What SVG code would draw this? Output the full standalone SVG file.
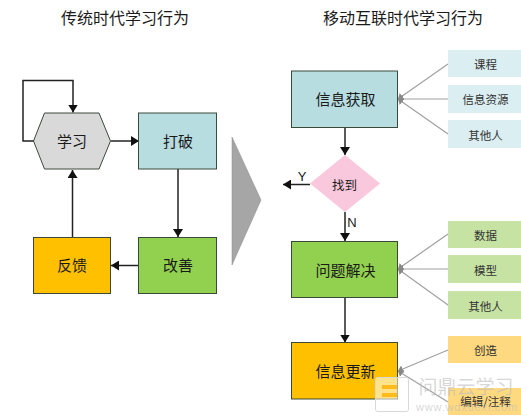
<svg xmlns="http://www.w3.org/2000/svg" width="521" height="417" viewBox="0 0 521 417">
<style>
text{font-family:"Noto Sans CJK SC","Liberation Sans",sans-serif;text-anchor:middle;fill:#1a1a1a}
.t{font-size:16px}.n{font-size:15px}.b{font-size:15px}.s{font-size:11.5px;fill:#333}
.l{font-family:"Liberation Sans",sans-serif;font-size:13px}
.box{stroke:#3a4a3a;stroke-width:1}
.c{fill:none;stroke:#222;stroke-width:1.5}
.g{fill:none;stroke:#a0a0a0;stroke-width:1.2}
</style>
<defs>
<marker id="a" markerUnits="userSpaceOnUse" markerWidth="9" markerHeight="10" refX="8" refY="5" orient="auto"><path d="M0 0L8 5L0 10Z" fill="#111"/></marker>
<marker id="h" markerUnits="userSpaceOnUse" markerWidth="6" markerHeight="8" refX="5" refY="4" orient="auto"><path d="M0 0L5 4L0 8Z" fill="#888"/></marker>
</defs>
<rect width="521" height="417" fill="#fff"/>
<text class="t" x="125" y="24">传统时代学习行为</text>
<text class="t" x="403" y="24">移动互联时代学习行为</text>
<g id="connectors">
<path class="c" d="M34 141H23V80.500H73V112.500" marker-end="url(#a)"/>
<path class="c" d="M111 141H139" marker-end="url(#a)"/>
<path class="c" d="M178 169V237" marker-end="url(#a)"/>
<path class="c" d="M139 265.500H111" marker-end="url(#a)"/>
<path class="c" d="M72.500 237V170" marker-end="url(#a)"/>
<path class="c" d="M345 127.500V155" marker-end="url(#a)"/>
<path class="c" d="M310 184.500H283" marker-end="url(#a)"/>
<path class="c" d="M345 212V241" marker-end="url(#a)"/>
<path class="c" d="M345 298V342.500" marker-end="url(#a)"/>
<path class="g" d="M448 64L398 99" marker-end="url(#h)"/>
<path class="g" d="M448 99H398" marker-end="url(#h)"/>
<path class="g" d="M448 134L398 99" marker-end="url(#h)"/>
<path class="g" d="M448 234L398 269" marker-end="url(#h)"/>
<path class="g" d="M448 269H398" marker-end="url(#h)"/>
<path class="g" d="M448 305L398 269" marker-end="url(#h)"/>
<path class="g" d="M448 350L398 371" marker-end="url(#h)"/>
<path class="g" d="M448 402L398 371" marker-end="url(#h)"/>
</g>
<g id="xuexi"><path class="box" d="M33.500 141L44.500 113H99L110.500 141L99 169H44.500Z" fill="#d9d9d9"/><text class="n" x="72" y="147">学习</text></g>
<g id="dapo"><rect class="box" x="138.500" y="113" width="78" height="56" fill="#b7dde1"/><text class="n" x="178" y="147">打破</text></g>
<g id="gaishan"><rect class="box" x="138.500" y="237.500" width="78" height="56" fill="#92d050"/><text class="n" x="178" y="271">改善</text></g>
<g id="fankui"><rect class="box" x="33.500" y="237.500" width="77" height="56" fill="#ffc000"/><text class="n" x="72" y="271">反馈</text></g>
<g id="arrow"><path d="M232 137L261 200L232 265Z" fill="#a6a6a6" stroke="#8a8a8a" stroke-width="0.5"/></g>
<g id="info"><rect class="box" x="291.500" y="71" width="106" height="56.500" fill="#b7dde1"/><text class="b" x="345.500" y="105">信息获取</text></g>
<g id="find"><path d="M345 155L380 183.500L345 212L310 183.500Z" fill="#f9c8dc"/><text x="344.500" y="189.500" style="font-size:12.500px">找到</text></g>
<g id="solve"><rect class="box" x="291.500" y="241.500" width="106" height="56" fill="#92d050"/><text class="b" x="345.500" y="276">问题解决</text></g>
<g id="update"><rect class="box" x="291.500" y="342.500" width="106" height="56.500" fill="#ffc000"/><text class="b" x="345.500" y="377">信息更新</text></g>
<text class="l" x="302" y="181">Y</text>
<text class="l" x="352" y="227">N</text>
<g id="s1"><rect x="448" y="50" width="73" height="27" fill="#dbeef1"/><text class="s" x="485.500" y="69">课程</text></g>
<g id="s2"><rect x="448" y="85" width="73" height="28" fill="#dbeef1"/><text class="s" x="485.500" y="104">信息资源</text></g>
<g id="s3"><rect x="448" y="120" width="73" height="28" fill="#dbeef1"/><text class="s" x="485.500" y="140">其他人</text></g>
<g id="s4"><rect x="448" y="221" width="73" height="27" fill="#c6e3a3"/><text class="s" x="485.500" y="240">数据</text></g>
<g id="s5"><rect x="448" y="255" width="73" height="28" fill="#c6e3a3"/><text class="s" x="485.500" y="275">模型</text></g>
<g id="s6"><rect x="448" y="291" width="73" height="28" fill="#c6e3a3"/><text class="s" x="485.500" y="311">其他人</text></g>
<g id="s7"><rect x="448" y="336" width="73" height="27" fill="#ffd97f"/><text class="s" x="485.500" y="355">创造</text></g>
<g id="s8"><rect x="448" y="388" width="73" height="27" fill="#ffd97f"/><text class="s" x="485.500" y="406">编辑/注释</text></g>
<g id="watermark">
<rect x="375.500" y="377.500" width="33" height="34" rx="2" fill="#fff" fill-opacity="0.55" stroke="#d8d8d8"/>
<path d="M382 385H397V389H382ZM382 393H397V397H382Z" fill="#ffb000" fill-opacity="0.8"/>
<text x="466" y="394" style="font-size:19px;fill:#bdbdbd;fill-opacity:0.6">问鼎云学习</text>
<text x="467" y="411" style="font-family:'Liberation Sans',sans-serif;font-size:11px;letter-spacing:0.8px;fill:#bdbdbd;fill-opacity:0.6">www.wdxuexi.com</text>
</g>
</svg>
